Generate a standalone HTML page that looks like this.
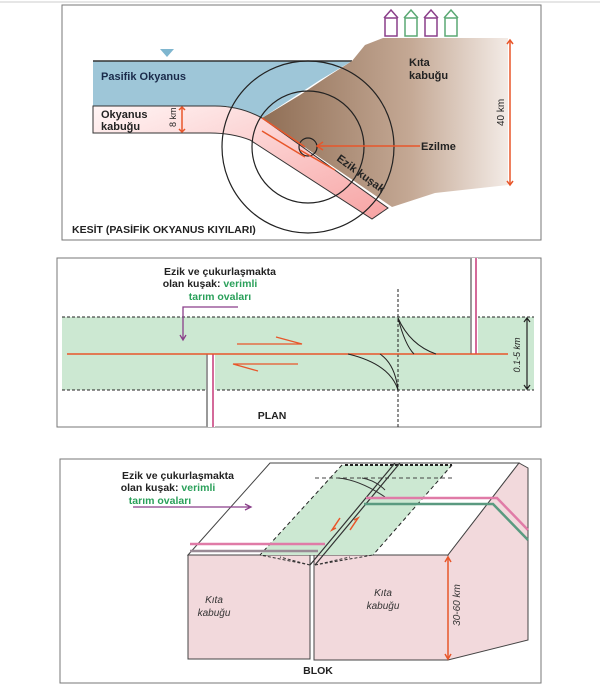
<!DOCTYPE html>
<html><head><meta charset="utf-8"><style>
body{margin:0;background:#fff;}
svg{display:block;font-family:"Liberation Sans",sans-serif;}
</style></head><body>
<svg width="600" height="689" viewBox="0 0 600 689" xmlns="http://www.w3.org/2000/svg">
<defs>
<linearGradient id="br" x1="0" x2="1" y1="0" y2="0">
<stop offset="0" stop-color="#8f6e55"/><stop offset="0.6" stop-color="#c4a894"/><stop offset="1" stop-color="#f3ebe6"/></linearGradient>
<linearGradient id="pk" x1="0" x2="1" y1="0" y2="1">
<stop offset="0" stop-color="#fff5f5"/><stop offset="1" stop-color="#f7a3a3"/></linearGradient>
</defs>
<rect x="0" y="0" width="600" height="689" fill="#fff"/>
<line x1="0" y1="2" x2="600" y2="2" stroke="#ccc"/>
<!-- TOP PANEL -->
<rect x="62" y="5" width="479" height="235" fill="none" stroke="#777" stroke-width="1"/>
<!-- water -->
<path d="M93,61 L352,61 L320,80 L262,118 L227,106 L93,106 Z" fill="#9ec6d8"/>
<line x1="93" y1="61" x2="352" y2="61" stroke="#333" stroke-width="1.5"/>
<path d="M160,49 L174,49 L167,57 Z" fill="#7fb6cf"/>
<!-- continent -->
<path d="M352,61 L365,45 L383,38 L508,38 L508,185 L435,193 L392,207 L262,118 L300,95 L330,75 Z" fill="url(#br)"/>
<!-- ocean crust -->
<path d="M93,106 L215,106 Q240,106 262,118 L388,208 L372,219 L250,140 Q232,133 210,133 L93,133 Z" fill="url(#pk)" stroke="#333" stroke-width="1"/>
<line x1="93" y1="106" x2="93" y2="133" stroke="#333"/>
<!-- circles -->
<g fill="none" stroke="#222" stroke-width="1.2">
<circle cx="308" cy="147" r="86"/><circle cx="308" cy="147" r="56"/><circle cx="308" cy="147" r="9"/>
</g>
<!-- orange -->
<g stroke="#e8562a" stroke-width="1.5" fill="none">
<line x1="262" y1="118" x2="305" y2="147"/>
<line x1="262" y1="131" x2="305" y2="157"/>
<line x1="300" y1="150" x2="335" y2="170"/>
<line x1="420" y1="146" x2="318" y2="146"/>
<path d="M323,142 L317,146 L323,150"/>
<line x1="182" y1="107" x2="182" y2="132"/>
<line x1="510" y1="40" x2="510" y2="185"/>
<path d="M507,44 L510,40 L513,44 M507,181 L510,185 L513,181"/>
<path d="M179,110 L182,107 L185,110 M179,129 L182,132 L185,129"/>
</g>
<!-- houses -->
<g stroke-width="1.5" fill="none">
<rect x="385" y="18" width="12" height="18" stroke="#8a3f8a"/><path d="M384,18 L391,10 L398,18" stroke="#8a3f8a"/>
<rect x="405" y="18" width="12" height="18" stroke="#5aa873"/><path d="M404,18 L411,10 L418,18" stroke="#5aa873"/>
<rect x="425" y="18" width="12" height="18" stroke="#8a3f8a"/><path d="M424,18 L431,10 L438,18" stroke="#8a3f8a"/>
<rect x="445" y="18" width="12" height="18" stroke="#5aa873"/><path d="M444,18 L451,10 L458,18" stroke="#5aa873"/>
</g>
<g font-weight="bold" font-size="11" fill="#1a2a4a">
<text x="101" y="80">Pasifik Okyanus</text>
<text x="101" y="118" fill="#222">Okyanus</text><text x="101" y="130" fill="#222">kabuğu</text>
<text x="409" y="66" fill="#222">Kıta</text><text x="409" y="79" fill="#222">kabuğu</text>
<text x="421" y="150" fill="#222">Ezilme</text>
<text x="72" y="233" fill="#222" font-size="10.5">KESİT (PASİFİK OKYANUS KIYILARI)</text>
<text transform="translate(336,160) rotate(36)" fill="#222" font-size="11">Ezik  kuşak</text>
<text transform="translate(504,126) rotate(-90)" fill="#222" font-weight="normal" font-size="10">40 km</text>
<text transform="translate(176,127) rotate(-90)" fill="#222" font-weight="normal" font-size="9">8 km</text>
</g>

<!-- MIDDLE PANEL -->
<rect x="57" y="258" width="484" height="169" fill="none" stroke="#777"/>
<rect x="62" y="317" width="472" height="73" fill="#cce8d2"/>
<line x1="62" y1="317" x2="534" y2="317" stroke="#222" stroke-dasharray="3,2"/>
<line x1="62" y1="390" x2="534" y2="390" stroke="#222" stroke-dasharray="3,2"/>
<line x1="398" y1="289" x2="398" y2="427" stroke="#222" stroke-dasharray="3,2"/>
<rect x="470" y="258" width="8" height="96" fill="#fff"/>
<line x1="471" y1="258" x2="471" y2="354" stroke="#999" stroke-width="2"/>
<line x1="476" y1="258" x2="476" y2="354" stroke="#d46a9a" stroke-width="2"/>
<rect x="206" y="354" width="9" height="73" fill="#fff"/>
<line x1="207" y1="354" x2="207" y2="427" stroke="#999" stroke-width="2"/>
<line x1="213" y1="354" x2="213" y2="427" stroke="#d46a9a" stroke-width="2"/>
<line x1="67" y1="354" x2="508" y2="354" stroke="#e8562a" stroke-width="1.5"/>
<g stroke="#e8562a" stroke-width="1.3" fill="none">
<path d="M237,344 L302,344 L276,337"/>
<path d="M298,364 L233,364 L258,371"/>
</g>
<g stroke="#222" fill="none" stroke-width="1">
<path d="M398,318 Q410,345 436,354"/><path d="M398,318 Q405,345 414,354"/>
<path d="M398,390 Q390,364 348,354"/><path d="M398,390 Q395,364 380,354"/>
<path d="M527,319 L527,388 M524,322 L527,318 L530,322 M524,385 L527,389 L530,385" stroke-width="1.2"/>
</g>
<path d="M238,307 L183,307 L183,339 M180,335 L183,340 L186,335" stroke="#8a3f8a" fill="none" stroke-width="1.3"/>
<g font-weight="bold" font-size="10.5" text-anchor="middle" fill="#222">
<text x="220" y="275">Ezik ve çukurlaşmakta</text>
<text x="210" y="287">olan kuşak: <tspan fill="#2aa05a">verimli</tspan></text>
<text x="220" y="300" fill="#2aa05a">tarım ovaları</text>
<text x="272" y="419">PLAN</text>
</g>
<text transform="translate(520,355) rotate(-90)" font-size="9" font-style="italic" text-anchor="middle" fill="#222">0.1-5 km</text>

<!-- BOTTOM PANEL -->
<rect x="60" y="459" width="481" height="224" fill="none" stroke="#777"/>
<path d="M188,555 L270,463 L519,463 L448,555 Z" fill="#fff" stroke="#444"/>
<path d="M448,555 L519,463 L528,468 L528,640 L448,660 Z" fill="#f2d9dc" stroke="#444"/>
<rect x="188" y="555" width="122" height="104" fill="#f2d9dc" stroke="#444"/>
<rect x="314" y="555" width="134" height="105" fill="#f2d9dc" stroke="#444"/>
<path d="M342,465 L452,465 L373,555 L260,555 Z" fill="#cce8d2"/>
<path d="M342,465 L260,555 M452,465 L373,555" stroke="#222" stroke-dasharray="4,3" fill="none"/>
<line x1="315" y1="478" x2="452" y2="478" stroke="#444" stroke-dasharray="4,3"/>
<line x1="345" y1="465" x2="452" y2="465" stroke="#222" stroke-width="2" stroke-dasharray="3,2"/>
<path d="M395,463 L310,565 M400,463 L315,565" stroke="#333" stroke-width="1.2" fill="none"/>
<path d="M310,565 L260,555 M310,565 L280,557 M315,565 L373,555 M315,565 L350,557" stroke="#333" fill="none" stroke-dasharray="3,2"/>
<path d="M338,478 Q360,480 385,497 M362,478 Q375,480 385,490" stroke="#333" fill="none"/>
<g stroke-width="2.5" fill="none">
<path d="M190,544 L325,544" stroke="#e07ba7"/>
<path d="M190,551 L318,551" stroke="#9a8a95"/>
<path d="M366,498 L497,498 L528,530" stroke="#e07ba7"/>
<path d="M364,504 L493,504 L528,540" stroke="#5a9a80"/>
</g>
<g stroke="#e8562a" stroke-width="1.5" fill="none">
<path d="M340,518 L332,530 L336,528"/><path d="M350,530 L358,518 L354,520"/>
<line x1="448" y1="558" x2="448" y2="658"/>
<path d="M445,562 L448,557 L451,562 M445,654 L448,659 L451,654"/>
</g>
<path d="M133,507 L250,507 M245,504 L251,507 L245,510" stroke="#8a3f8a" fill="none" stroke-width="1.3"/>
<g font-weight="bold" font-size="10.5" text-anchor="middle" fill="#222">
<text x="178" y="479">Ezik ve çukurlaşmakta</text>
<text x="168" y="491">olan kuşak: <tspan fill="#2aa05a">verimli</tspan></text>
<text x="160" y="504" fill="#2aa05a">tarım ovaları</text>
<text x="318" y="674">BLOK</text>
</g>
<g font-style="italic" font-size="10" text-anchor="middle" fill="#333">
<text x="214" y="603">Kıta</text><text x="214" y="616">kabuğu</text>
<text x="383" y="596">Kıta</text><text x="383" y="609">kabuğu</text>
<text transform="translate(460,605) rotate(-90)">30-60 km</text>
</g>
</svg>
</body></html>
